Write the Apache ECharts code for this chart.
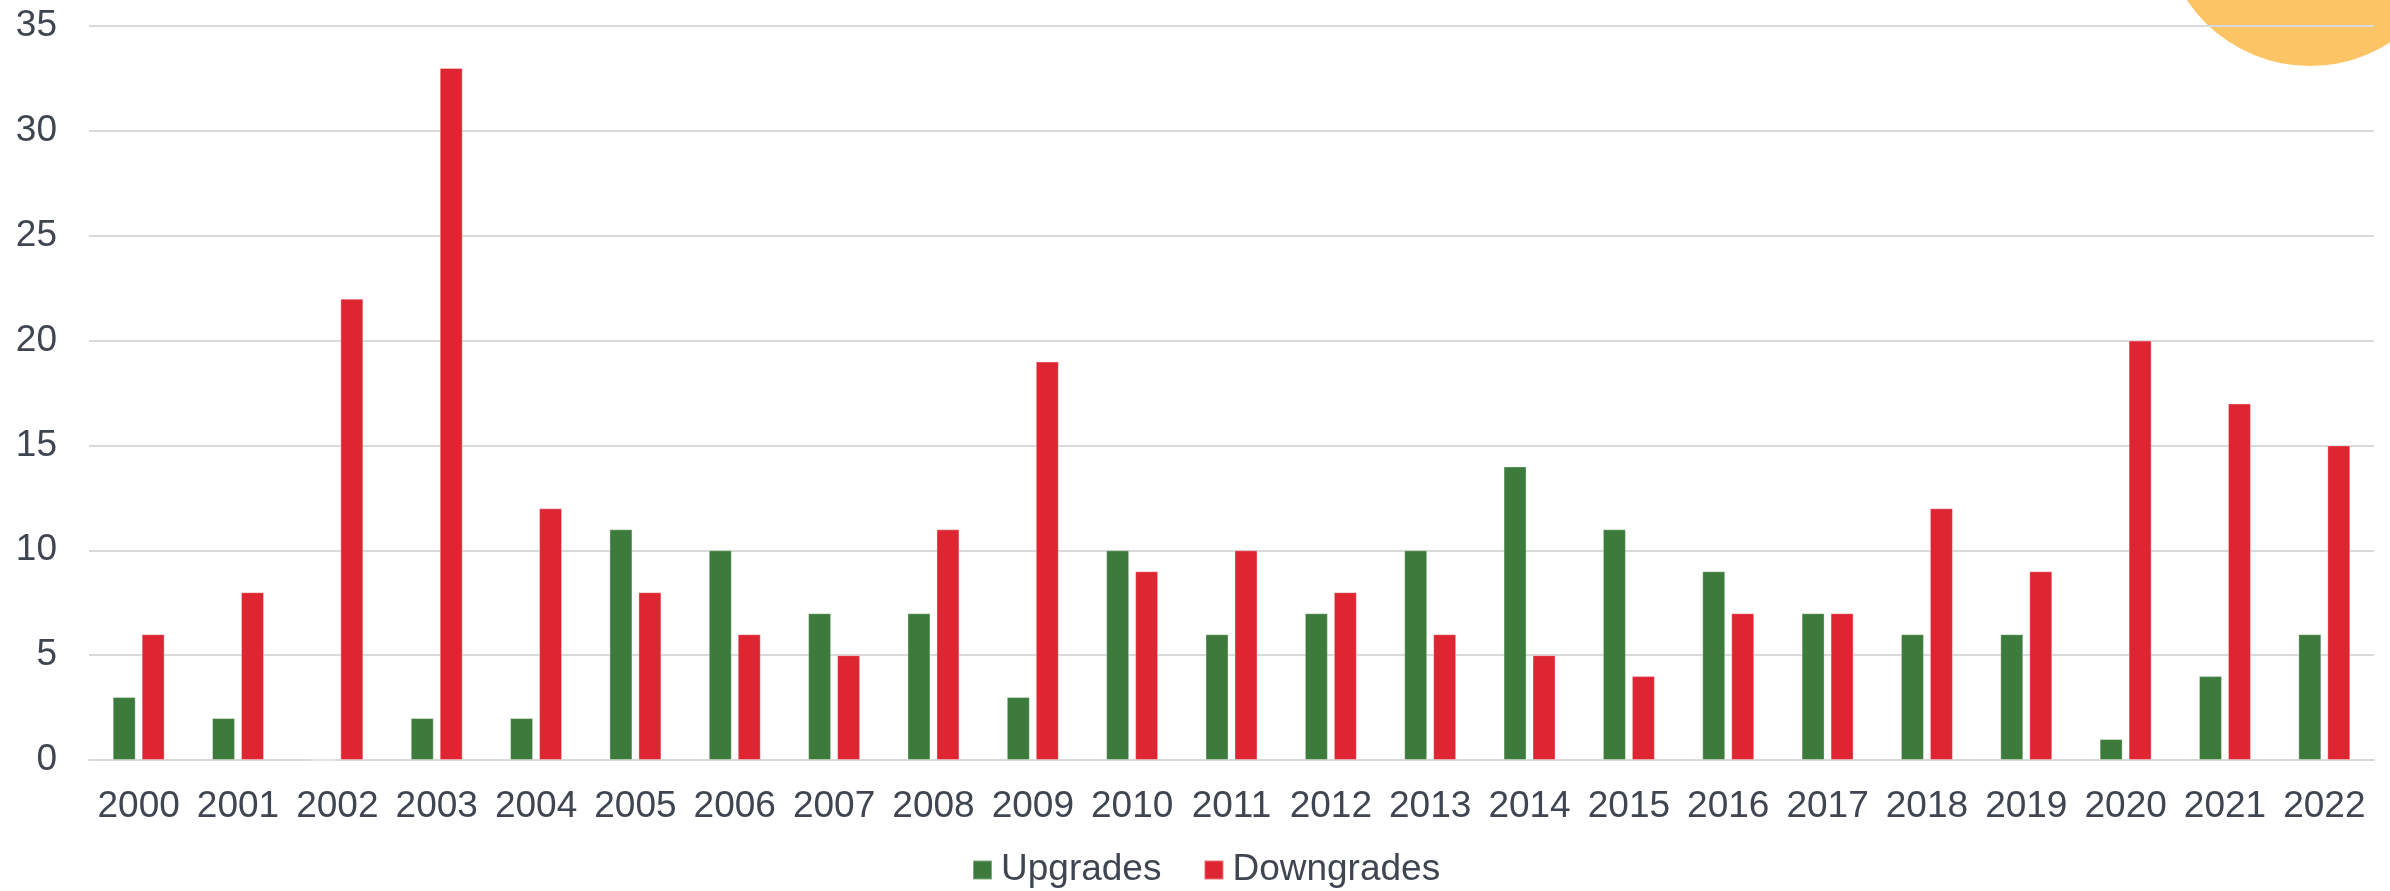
<!DOCTYPE html>
<html>
<head>
<meta charset="utf-8">
<script src="https://cdn.jsdelivr.net/npm/echarts@6/dist/echarts.min.js"></script>
<style>
html,body{margin:0;padding:0;background:#fff;}
#chart{width:2390px;height:891px;}
</style>
</head>
<body>
<div id="chart"></div>
<script>
const categories = ['2000','2001','2002','2003','2004','2005','2006','2007','2008','2009','2010','2011','2012','2013','2014','2015','2016','2017','2018','2019','2020','2021','2022'];
const upgrades = [3,2,0,2,2,11,10,7,7,3,10,6,7,10,14,11,9,7,6,6,1,4,6];
const downgrades = [6,8,22,33,12,8,6,5,11,19,9,10,8,6,5,4,7,7,12,9,20,17,15];
const yTicks = [0,5,10,15,20,25,30,35];

const textColor = '#404552';
const fontFamily = '"Liberation Sans", Arial, sans-serif';

const chart = echarts.init(document.getElementById('chart'));
chart.setOption({
  animation: false,
  backgroundColor: '#ffffff',
  graphic: [{
    type: 'circle',
    z: -10,
    zlevel: 0,
    shape: { cx: 2310, cy: -82, r: 148 },
    style: { fill: '#FCC464' },
    silent: true
  }],
  grid: { left: 89, right: 16, top: 26, bottom: 131, containLabel: false },
  legend: {
    data: ['Upgrades', 'Downgrades'],
    top: 850,
    left: 972,
    padding: 0,
    itemWidth: 19,
    itemHeight: 19,
    itemGap: 42,
    icon: 'rect',
    textStyle: { color: textColor, fontSize: 37, lineHeight: 40, fontFamily: fontFamily, padding: [0,0,0,4] }
  },
  xAxis: {
    type: 'category',
    data: categories,
    axisLine: { show: true, lineStyle: { color: '#D9D9D9', width: 2 } },
    axisTick: { show: false },
    axisLabel: { color: textColor, fontSize: 37, fontFamily: fontFamily, margin: 28, interval: 0 },
    z: 2
  },
  yAxis: {
    type: 'value',
    min: yTicks[0],
    max: yTicks[yTicks.length - 1],
    interval: 5,
    axisLine: { show: false },
    axisTick: { show: false },
    splitLine: { show: true, lineStyle: { color: '#D9D9D9', width: 2 } },
    axisLabel: { color: textColor, fontSize: 37, fontFamily: fontFamily, margin: 32 },
    z: 2
  },
  series: [
    {
      name: 'Upgrades',
      type: 'bar',
      data: upgrades,
      barWidth: 23,
      barGap: '26%',
      itemStyle: { color: '#3D7B3C', borderColor: 'rgba(255,255,255,0.35)', borderWidth: 1 },
      z: 3
    },
    {
      name: 'Downgrades',
      type: 'bar',
      data: downgrades,
      barWidth: 23,
      barGap: '26%',
      itemStyle: { color: '#DE2633', borderColor: 'rgba(255,255,255,0.35)', borderWidth: 1 },
      z: 3
    }
  ]
});
</script>
</body>
</html>
